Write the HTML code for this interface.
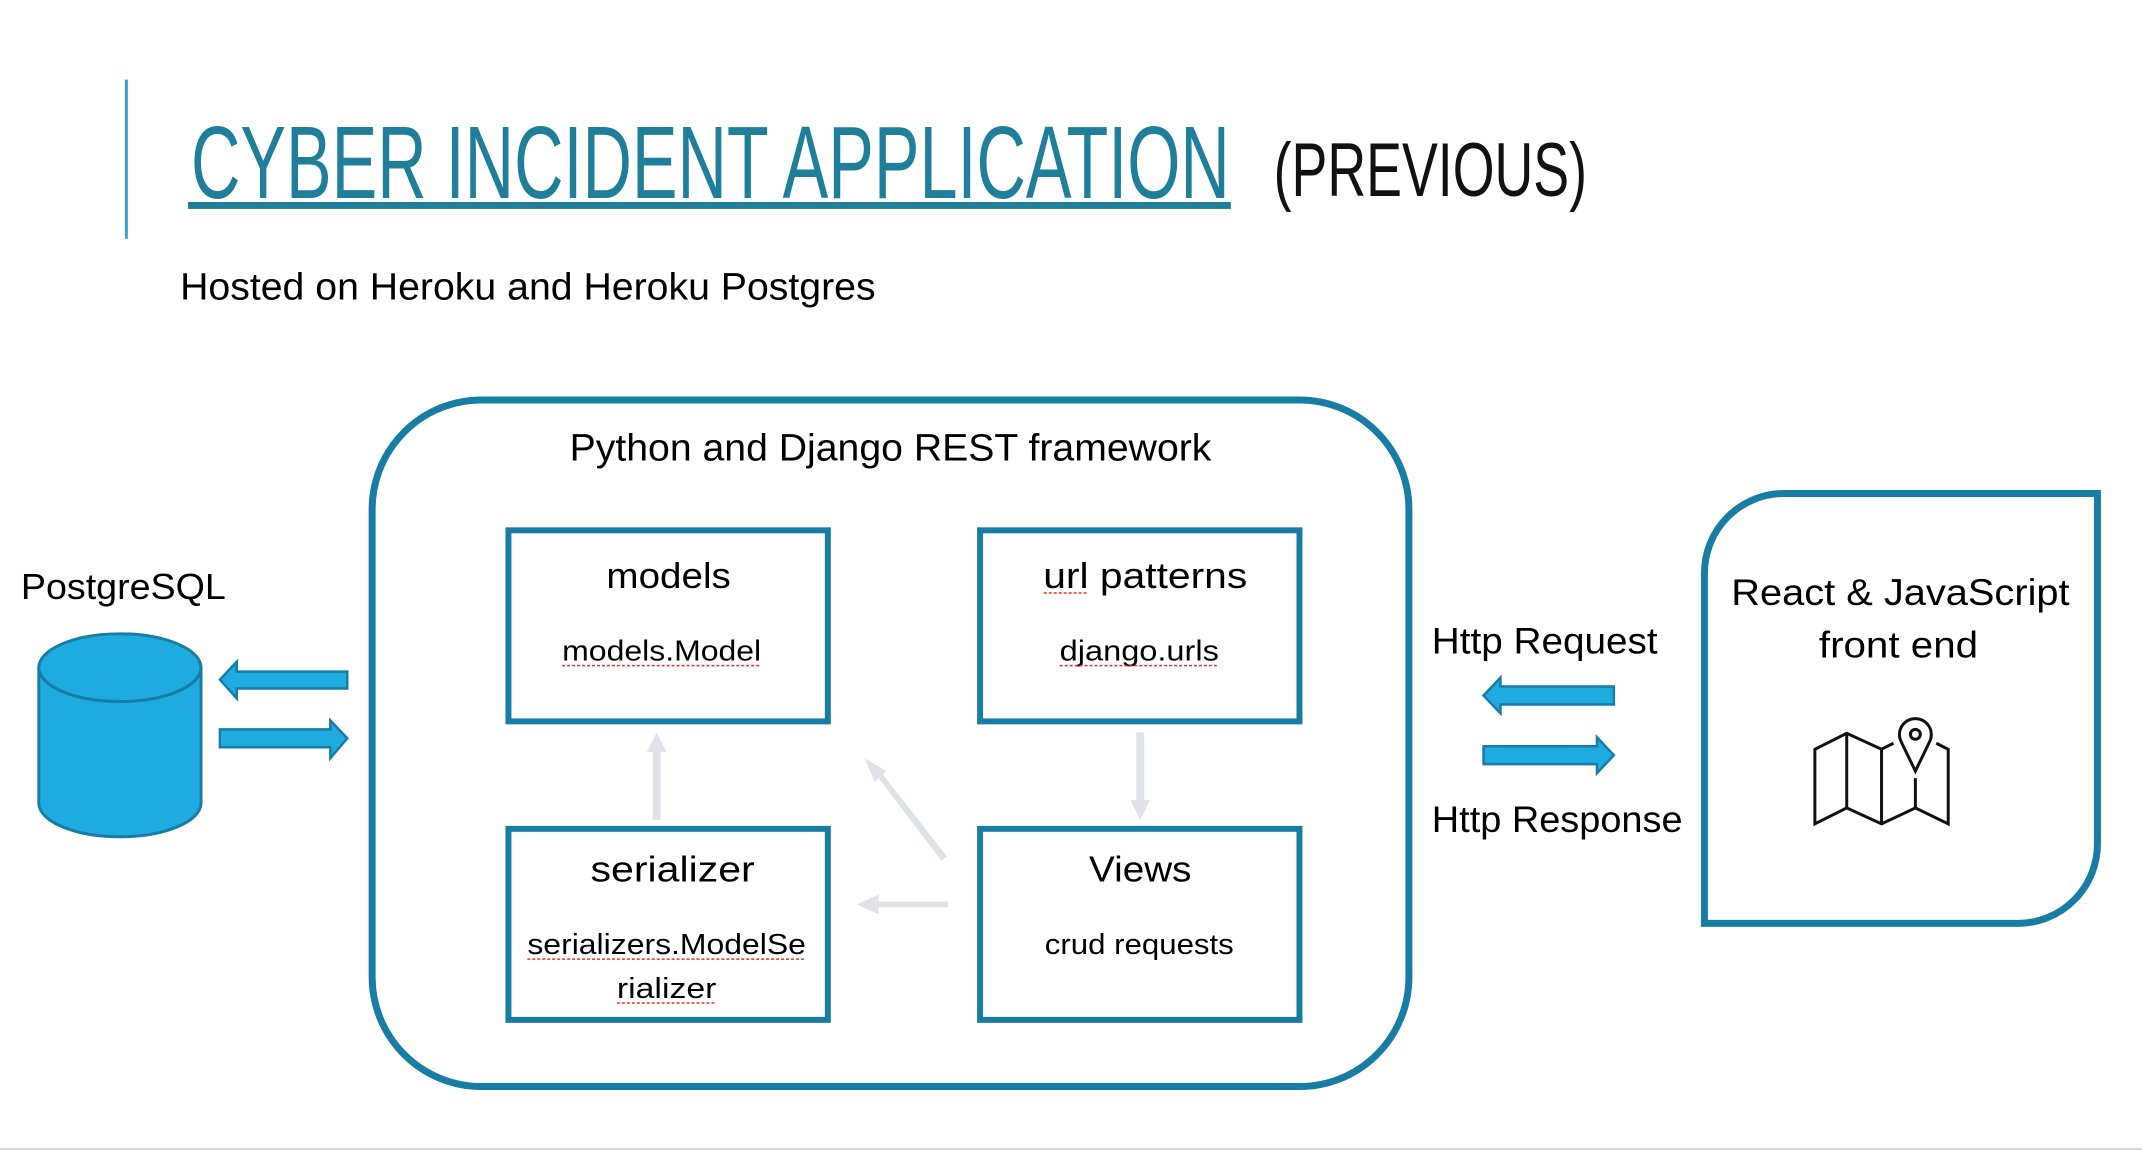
<!DOCTYPE html>
<html><head><meta charset="utf-8"><style>
html,body{margin:0;padding:0;background:#fff;}
svg{display:block;}
text{font-family:"Liberation Sans",sans-serif;}
</style></head><body>
<svg width="2142" height="1150" viewBox="0 0 2142 1150" xmlns="http://www.w3.org/2000/svg">
<rect width="2142" height="1150" fill="#fff"/>
<g transform="scale(0.995)">
<line x1="127" y1="80" x2="127" y2="240" stroke="#3aa0cf" stroke-width="3"/>
<text x="192" y="199" font-size="104" fill="#1f7f9a" textLength="1044" lengthAdjust="spacingAndGlyphs">CYBER INCIDENT APPLICATION</text>
<rect x="189" y="203" width="1048" height="7" fill="#1f7f9a"/>
<text x="1280" y="197" font-size="76" fill="#111" textLength="315" lengthAdjust="spacingAndGlyphs">(PREVIOUS)</text>
<text x="181" y="301" font-size="38" fill="#000" textLength="699" lengthAdjust="spacingAndGlyphs">Hosted on Heroku and Heroku Postgres</text>

<rect x="374" y="402" width="1042" height="690" rx="110" ry="110" fill="none" stroke="#177da4" stroke-width="7"/>
<text x="895" y="463" font-size="38" text-anchor="middle" textLength="645" lengthAdjust="spacingAndGlyphs">Python and Django REST framework</text>

<g fill="none" stroke="#177da4" stroke-width="6">
<rect x="511" y="533" width="321" height="192"/>
<rect x="985" y="533" width="321" height="192"/>
<rect x="511" y="833" width="321" height="192"/>
<rect x="985" y="833" width="321" height="192"/>
</g>
<g font-size="36" text-anchor="middle">
<text x="672" y="591" textLength="125" lengthAdjust="spacingAndGlyphs">models</text>
<text x="1151" y="591" textLength="205" lengthAdjust="spacingAndGlyphs">url patterns</text>
<text x="676" y="886" textLength="165" lengthAdjust="spacingAndGlyphs">serializer</text>
<text x="1146" y="886" textLength="103" lengthAdjust="spacingAndGlyphs">Views</text>
</g>
<g font-size="29" text-anchor="middle">
<text x="665" y="664" textLength="200" lengthAdjust="spacingAndGlyphs">models.Model</text>
<text x="1145" y="664" textLength="160" lengthAdjust="spacingAndGlyphs">django.urls</text>
<text x="670" y="959" textLength="280" lengthAdjust="spacingAndGlyphs">serializers.ModelSe</text>
<text x="670" y="1003" textLength="100" lengthAdjust="spacingAndGlyphs">rializer</text>
<text x="1145" y="959" textLength="190" lengthAdjust="spacingAndGlyphs">crud requests</text>
</g>
<g fill="none" stroke="#e8302a" stroke-width="1.5" stroke-dasharray="3 2">
<line x1="565" y1="669" x2="765" y2="669"/>
<line x1="1065" y1="669" x2="1225" y2="669"/>
<line x1="1049" y1="596" x2="1094" y2="596"/>
<line x1="530" y1="964" x2="810" y2="964"/>
<line x1="620" y1="1008" x2="720" y2="1008"/>
</g>

<g fill="#dfe3e7">
<polygon points="656,824 656,756 650,756 660,736 670,756 664,756 664,824"/>
<polygon points="1142,736 1142,804 1136,804 1146,824 1156,804 1150,804 1150,736"/>
<polygon points="953,909 883,909 883,902 861,912 883,922 883,915 953,915" transform="translate(0,-3)"/>
<polygon points="946,865 883,782 879,786 869,762 891,775 887,778 952,861"/>
</g>

<path d="M39,671 L39,807 A81.5,34 0 0 0 202,807 L202,671" fill="#1eabdf" stroke="#177da4" stroke-width="3"/>
<ellipse cx="120.5" cy="671" rx="81.5" ry="34" fill="#1eabdf" stroke="#177da4" stroke-width="3"/>
<text x="21" y="602" font-size="36" textLength="206" lengthAdjust="spacingAndGlyphs">PostgreSQL</text>

<g fill="#1eabdf" stroke="#177da4" stroke-width="2.5">
<polygon points="221,683 238,665 238,675 349,675 349,692 238,692 238,702"/>
<polygon points="349,742 332,724 332,733 221,733 221,751 332,751 332,762"/>
<polygon points="1491,699 1508,681 1508,690 1622,690 1622,708 1508,708 1508,717"/>
<polygon points="1622,759 1605,741 1605,750 1491,750 1491,768 1605,768 1605,777"/>
</g>
<text x="1439" y="657" font-size="37" textLength="227" lengthAdjust="spacingAndGlyphs">Http Request</text>
<text x="1439" y="836" font-size="37" textLength="252" lengthAdjust="spacingAndGlyphs">Http Response</text>

<path d="M1793,496 L2108,496 L2108,848 A80,80 0 0 1 2028,928 L1713,928 L1713,576 A80,80 0 0 1 1793,496 Z" fill="none" stroke="#177da4" stroke-width="7"/>
<text x="1910" y="608" font-size="37" text-anchor="middle" textLength="340" lengthAdjust="spacingAndGlyphs">React &amp; JavaScript</text>
<text x="1908" y="661" font-size="37" text-anchor="middle" textLength="160" lengthAdjust="spacingAndGlyphs">front end</text>

<g fill="none" stroke="#111" stroke-width="3" stroke-linejoin="miter">
<polyline points="1903,747 1891,753 1856,737 1824,753 1824,828 1856,812 1891,828 1925,812 1958,828 1958,753 1946,747"/>
<line x1="1856" y1="737" x2="1856" y2="812"/>
<line x1="1891" y1="753" x2="1891" y2="828"/>
<line x1="1925" y1="782" x2="1925" y2="812"/>
<path d="M1925,775 L1911,746 A16,16 0 1 1 1939,746 Z"/>
<circle cx="1925" cy="738" r="5"/>
</g>
</g>
<line x1="0" y1="1149" x2="2142" y2="1149" stroke="#d9d9d9" stroke-width="2"/>
</svg>
</body></html>
